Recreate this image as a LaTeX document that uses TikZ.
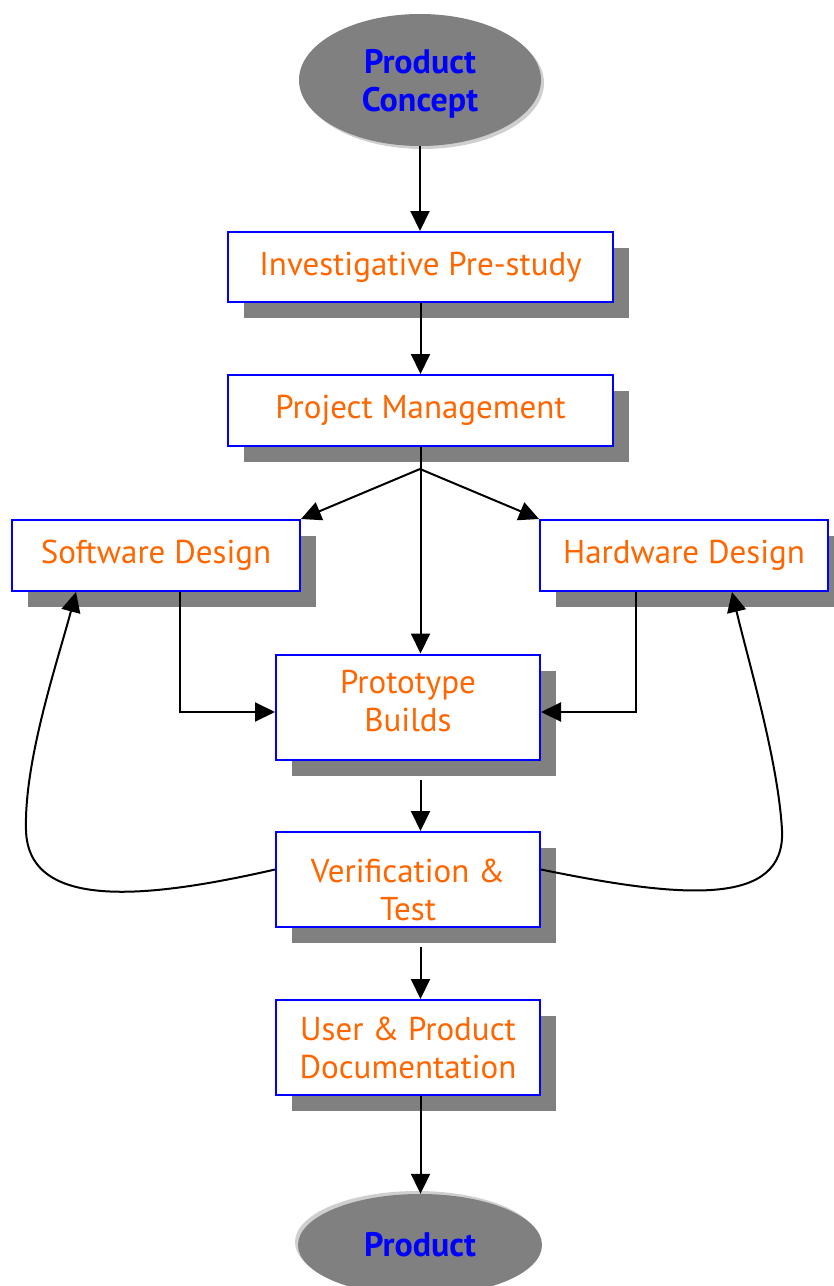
\documentclass[tikz,border=0pt]{standalone}
\usepackage{fontspec}
\setmainfont{PT Sans}
\usepackage{xcolor}
\usepackage{tikz}
\usetikzlibrary{shapes,arrows.meta,positioning,calc,shadows}
\definecolor{stageorange}{HTML}{FF6600}
\definecolor{stageblue}{HTML}{0000FF}
\definecolor{shadegray}{HTML}{808080}
\definecolor{halogray}{HTML}{CFCFCF}

\begin{document}
\begin{tikzpicture}[x=1pt, y=-1pt,
        stage/.style={rectangle, draw=stageblue, line width=2pt, fill=white, text=stageorange,
            align=center, inner sep=0pt, font=\fontsize{33}{38}\selectfont,
            drop shadow={shadow xshift=16pt, shadow yshift=-16pt, fill=shadegray, opacity=1}},
        terminal/.style={ellipse, fill=shadegray, text=stageblue, align=center, inner sep=0pt,
            font=\fontsize{34}{38}\selectfont\bfseries},
        line/.style={draw, line width=2pt, -{Triangle[length=20pt,width=19pt]}}]
        \useasboundingbox (0,0) rectangle (834,1286);

        % start and end of the flow
        \fill [halogray] (423,83) ellipse [x radius=121pt, y radius=66pt];
        \node [terminal, minimum width=242pt, minimum height=132pt] (concept) at (420,80) {\rule{0pt}{32pt}Product\\Concept};
        \fill [halogray] (417,1242) ellipse [x radius=122pt, y radius=51pt];
        \node [terminal, minimum width=244pt, minimum height=102pt] (product) at (420,1245) {Product};

        % stages
        \node [stage, minimum width=385pt, minimum height=70pt] (prestudy) at (420.5,267) {Investigative Pre-study};
        \node [stage, minimum width=385pt, minimum height=71pt] (pm) at (420.5,410.5) {Project Management};
        \node [stage, minimum width=288pt, minimum height=71pt] (sw) at (156,555.5) {Software Design};
        \node [stage, minimum width=288pt, minimum height=71pt] (hw) at (684,555.5) {Hardware Design};
        \node [stage, minimum width=264pt, minimum height=105pt] (proto) at (408,707) {Prototype\\Builds\rule[-12pt]{0pt}{0pt}};
        \node [stage, minimum width=264pt, minimum height=95pt] (verif) at (408,879.5) {\rule{0pt}{44pt}Verification \&\\Test};
        \node [stage, minimum width=264pt, minimum height=95pt] (doc) at (408,1047.5) {User \& Product\\Documentation};

        \coordinate (split) at (420,469);

        \path [line] (concept) -- (concept.south |- prestudy.north);
        \path [line] (prestudy) -- (pm);
        \path [line] (pm.south) -- (pm.south |- proto.north);
        \path [line] (split) -- (sw.north east);
        \path [line] (split) -- (hw.north west);
        \path [line] ([xshift=24pt]sw.south) |- ([yshift=-5pt]proto.west);
        \path [line] ([xshift=-48pt]hw.south) |- ([yshift=-5pt]proto.east);
        \path [line] ([yshift=-19pt]proto.south -| pm.south) -- (pm.south |- verif.north);
        \path [line] ([yshift=-19pt]verif.south -| pm.south) -- (pm.south |- doc.north);
        \path [line] (doc.south -| pm.south) -- (pm.south |- product.north);

        % feedback loops
        \path [line] ([yshift=10pt]verif.west) .. controls (150,898) and (28,912) .. (26,830)
            .. controls (24,760) and (58,660) .. ([xshift=-80pt]sw.south);
        \path [line] ([yshift=10pt]verif.east) .. controls (680,898) and (786,908) .. (782,830)
            .. controls (778,760) and (748,660) .. ([xshift=48pt]hw.south);
    \end{tikzpicture}
\end{document}
